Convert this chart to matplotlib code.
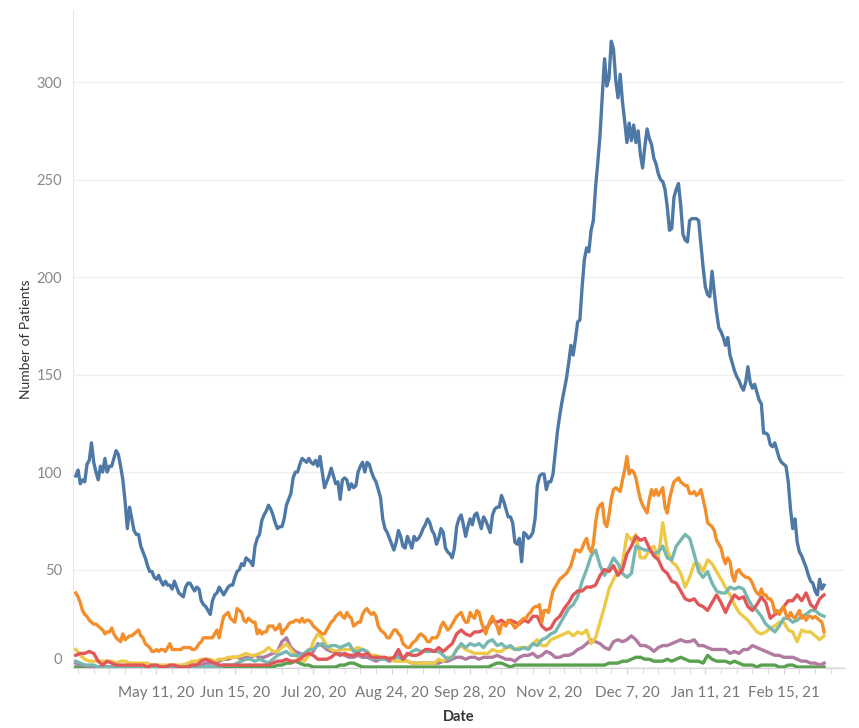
import matplotlib
matplotlib.use("Agg")
import matplotlib.pyplot as plt
import pandas as pd

plt.rcParams['font.family'] = ['Lato', 'DejaVu Sans']

start_date = "2020-04-05"
daily_dates = pd.date_range(start_date, periods=335, freq="D")
two_day_dates = pd.date_range(start_date, periods=168, freq="2D")

blue_values = [
    98, 101, 94, 96, 95, 104, 106, 115, 105, 100,
    96, 103, 100, 107, 100, 103, 103, 107, 111, 109,
    103, 96, 85, 71, 82, 76, 70, 68, 68, 62,
    59, 56, 52, 49, 49, 46, 45, 47, 44, 42,
    44, 42, 42, 40, 44, 41, 38, 37, 36, 41,
    43, 43, 41, 39, 41, 40, 34, 32, 31, 29,
    27, 34, 37, 38, 41, 39, 37, 39, 41, 42,
    42, 46, 49, 50, 53, 52, 56, 55, 54, 52,
    62, 66, 68, 75, 78, 80, 83, 81, 78, 74,
    71, 72, 72, 76, 83, 86, 89, 97, 100, 100,
    104, 107, 106, 105, 107, 105, 104, 106, 103, 108,
    100, 92, 95, 98, 102, 98, 94, 95, 86, 96,
    97, 96, 91, 94, 92, 93, 100, 103, 105, 100,
    105, 104, 100, 97, 95, 91, 87, 76, 71, 69,
    66, 63, 60, 64, 70, 67, 62, 61, 67, 64,
    61, 67, 65, 66, 68, 71, 73, 76, 74, 70,
    68, 63, 66, 71, 69, 61, 59, 58, 56, 61,
    72, 76, 78, 73, 67, 72, 76, 73, 78, 79,
    75, 71, 77, 75, 72, 69, 78, 81, 82, 82,
    88, 85, 81, 77, 77, 74, 64, 63, 66, 54,
    69, 68, 66, 67, 69, 76, 93, 98, 99, 99,
    91, 95, 95, 99, 110, 121, 129, 136, 142, 148,
    156, 165, 160, 168, 177, 178, 195, 209, 215, 213,
    224, 229, 246, 259, 273, 293, 312, 298, 302, 321,
    317, 301, 292, 304, 290, 280, 269, 279, 270, 278,
    269, 275, 263, 256, 267, 276, 271, 268, 261, 258,
    253, 250, 249, 245, 236, 224, 225, 241, 245, 248,
    237, 222, 219, 218, 229, 230, 230, 230, 229, 217,
    205, 195, 191, 190, 203, 192, 182, 174, 172, 169,
    165, 169, 160, 156, 152, 149, 147, 144, 142, 146,
    154, 146, 143, 145, 141, 137, 135, 120, 120, 119,
    114, 113, 115, 111, 107, 105, 104, 103, 95, 81,
    71, 76, 64, 59, 57, 54, 51, 47, 44, 43,
    39, 37, 45, 40, 42,
]

orange_values = [
    38, 36, 33, 29, 27, 26, 24, 23, 22, 22,
    21, 20, 19, 17, 18, 18, 20, 17, 15, 14,
    13, 17, 14, 15, 16, 16, 17, 18, 19, 16,
    15, 12, 11, 10, 8, 8, 9, 8, 9, 9,
    8, 10, 12, 9, 9, 9, 9, 9, 10, 10,
    10, 10, 9, 9, 10, 12, 13, 15, 15, 15,
    15, 15, 17, 19, 15, 21, 26, 27, 28, 25,
    24, 23, 30, 29, 28, 24, 23, 25, 24, 23,
    23, 17, 19, 17, 18, 18, 21, 21, 21, 19,
    20, 22, 17, 19, 20, 22, 23, 23, 24, 24,
    23, 25, 23, 24, 24, 23, 21, 20, 19, 18,
    17, 17, 19, 21, 23, 24, 26, 27, 28, 26,
    25, 28, 26, 25, 21, 22, 23, 23, 27, 29,
    30, 28, 27, 28, 26, 21, 19, 18, 17, 15,
    15, 17, 19, 19, 17, 16, 12, 11, 10, 10,
    12, 13, 14, 16, 17, 16, 15, 13, 13, 15,
    15, 15, 17, 21, 23, 21, 19, 20, 22, 24,
    26, 27, 28, 25, 23, 23, 28, 26, 25, 29,
    28, 23, 20, 17, 21, 24, 26, 23, 21, 17,
    22, 22, 21, 24, 23, 22, 20, 21, 23, 24,
    25, 25, 27, 28, 30, 31, 31, 32, 23, 29,
    29, 28, 34, 39, 41, 43, 45, 46, 47, 48,
    50, 52, 56, 60, 60, 59, 61, 64, 66, 61,
    59, 63, 74, 81, 83, 84, 74, 72, 78, 86,
    91, 92, 91, 90, 96, 101, 108, 99, 101, 100,
    97, 91, 86, 83, 81, 79, 86, 91, 88, 91,
    88, 90, 92, 82, 79, 86, 91, 95, 96, 97,
    95, 94, 93, 93, 89, 89, 90, 88, 89, 91,
    86, 81, 74, 73, 72, 70, 65, 63, 61, 56,
    53, 56, 54, 47, 44, 49, 50, 48, 47, 46,
    46, 45, 43, 40, 38, 37, 40, 37, 37, 35,
    35, 33, 28, 29, 27, 29, 31, 27, 25, 28,
    26, 25, 27, 29, 25, 26, 24, 26, 26, 25,
    26, 25, 24, 23, 18,
]

red_values = [
    6, 7, 7, 8, 7, 3, 1, 3, 2, 1,
    1, 1, 1, 1, 1, 1, 0, 1, 1, 0,
    0, 1, 1, 0, 0, 0, 1, 1, 3, 4,
    3, 2, 1, 1, 1, 1, 1, 1, 1, 1,
    1, 1, 1, 1, 2, 3, 3, 4, 3, 3,
    4, 6, 7, 6, 4, 4, 4, 5, 7, 6,
    7, 6, 6, 7, 6, 7, 5, 5, 5, 5,
    4, 5, 9, 4, 7, 6, 6, 7, 9, 9,
    8, 10, 8, 10, 12, 17, 19, 17, 16, 18,
    18, 19, 21, 24, 23, 24, 22, 24, 23, 22,
    24, 23, 26, 26, 21, 19, 20, 24, 26, 30,
    33, 37, 39, 39, 41, 41, 42, 47, 50, 49,
    52, 47, 50, 58, 62, 67, 65, 66, 61, 57,
    55, 50, 48, 44, 43, 39, 35, 34, 35, 32,
    31, 29, 33, 37, 33, 28, 33, 37, 35, 36,
    31, 29, 32, 36, 33, 25, 27, 28, 31, 34,
    34, 37, 34, 38, 32, 30, 35, 37,
]

teal_values = [
    3, 2, 1, 1, 1, 0, 0, 0, 0, 0,
    0, 0, 0, 0, 0, 0, 0, 0, 0, 0,
    0, 0, 0, 0, 0, 0, 0, 0, 0, 0,
    0, 0, 0, 1, 1, 1, 2, 3, 4, 4,
    3, 4, 3, 2, 4, 6, 7, 8, 6, 6,
    6, 7, 9, 9, 11, 12, 10, 11, 11, 10,
    11, 12, 8, 8, 9, 8, 4, 5, 4, 4,
    4, 5, 5, 4, 6, 8, 9, 8, 8, 8,
    8, 8, 6, 4, 5, 9, 12, 10, 12, 11,
    12, 10, 13, 14, 11, 12, 10, 11, 9, 9,
    10, 9, 12, 11, 14, 15, 17, 18, 22, 26,
    30, 32, 36, 44, 50, 57, 60, 52, 47, 51,
    56, 53, 48, 46, 48, 62, 61, 60, 60, 58,
    59, 62, 56, 55, 62, 65, 68, 66, 58, 49,
    46, 49, 43, 39, 38, 38, 41, 40, 41, 40,
    35, 31, 29, 26, 22, 20, 18, 21, 25, 25,
    23, 24, 26, 27, 29, 29, 27, 26,
]

yellow_values = [
    9, 6, 4, 3, 3, 3, 3, 3, 3, 2,
    3, 3, 2, 2, 2, 2, 2, 1, 1, 1,
    1, 1, 1, 1, 1, 2, 3, 3, 4, 4,
    4, 3, 4, 4, 5, 5, 5, 6, 7, 6,
    6, 7, 8, 10, 8, 8, 10, 12, 9, 6,
    4, 3, 6, 13, 17, 15, 11, 9, 8, 9,
    9, 9, 9, 10, 9, 8, 6, 6, 5, 4,
    5, 3, 3, 3, 3, 2, 2, 2, 2, 2,
    2, 4, 3, 5, 5, 9, 11, 9, 8, 7,
    7, 7, 7, 9, 8, 8, 10, 10, 9, 10,
    10, 10, 12, 14, 11, 11, 14, 15, 16, 17,
    18, 16, 18, 17, 19, 12, 15, 23, 31, 40,
    45, 49, 53, 68, 65, 68, 56, 56, 60, 62,
    56, 74, 60, 54, 52, 48, 41, 46, 53, 53,
    49, 55, 53, 49, 45, 41, 37, 32, 28, 26,
    24, 21, 18, 17, 18, 20, 21, 23, 23, 19,
    18, 13, 19, 18, 18, 16, 14, 16,
]

purple_values = [
    2, 1, 1, 0, 0, 0, 0, 0, 0, 0,
    0, 0, 0, 0, 0, 0, 0, 0, 0, 0,
    0, 0, 0, 0, 1, 1, 1, 1, 1, 2,
    2, 2, 3, 4, 4, 5, 5, 4, 5, 5,
    6, 5, 5, 6, 7, 8, 13, 15, 10, 8,
    7, 6, 6, 8, 12, 11, 9, 8, 8, 7,
    6, 5, 5, 6, 5, 5, 4, 3, 4, 4,
    3, 4, 6, 4, 3, 2, 2, 2, 2, 2,
    2, 2, 3, 3, 4, 5, 5, 4, 5, 5,
    4, 5, 5, 5, 6, 5, 4, 4, 3, 5,
    6, 6, 7, 5, 6, 8, 7, 5, 5, 6,
    6, 7, 9, 10, 12, 14, 13, 12, 10, 9,
    13, 14, 13, 14, 16, 14, 11, 11, 10, 8,
    10, 11, 11, 12, 13, 14, 13, 13, 14, 11,
    11, 10, 9, 9, 9, 9, 7, 8, 7, 9,
    9, 11, 10, 9, 8, 7, 6, 6, 5, 5,
    5, 4, 3, 3, 2, 2, 1, 2,
]

green_values = [
    0, 0, 0, 0, 0, 0, 0, 0, 0, 0,
    0, 0, 0, 0, 0, 0, 0, 0, 0, 0,
    0, 0, 0, 0, 0, 0, 0, 0, 0, 0,
    0, 0, 0, 0, 0, 0, 0, 0, 0, 0,
    0, 0, 0, 0, 0, 1, 1, 2, 2, 3,
    2, 1, 1, 0, 0, 0, 0, 0, 0, 1,
    1, 2, 2, 1, 0, 0, 0, 0, 0, 0,
    0, 0, 0, 0, 0, 0, 0, 0, 0, 0,
    0, 0, 0, 0, 0, 0, 0, 0, 0, 0,
    0, 0, 0, 1, 2, 2, 1, 0, 1, 1,
    1, 1, 1, 1, 1, 1, 1, 1, 1, 1,
    1, 1, 1, 1, 1, 1, 1, 1, 1, 2,
    2, 2, 3, 3, 4, 5, 5, 4, 4, 3,
    3, 3, 4, 3, 4, 5, 4, 3, 3, 3,
    2, 6, 4, 3, 3, 3, 2, 3, 2, 1,
    1, 1, 0, 1, 1, 1, 1, 0, 0, 1,
    1, 0, 0, 0, 0, 0, 0, 0,
]

tick_dates = ["2020-05-11", "2020-06-15", "2020-07-20", "2020-08-24", "2020-09-28",
              "2020-11-02", "2020-12-07", "2021-01-11", "2021-02-15"]
tick_labels = ["May 11, 20", "Jun 15, 20", "Jul 20, 20", "Aug 24, 20", "Sep 28, 20",
               "Nov 2, 20", "Dec 7, 20", "Jan 11, 21", "Feb 15, 21"]
y_ticks = [0, 50, 100, 150, 200, 250, 300]

fig = plt.figure(figsize=(8.59, 7.28), dpi=100)
ax = fig.add_axes([73 / 859, 1 - 668 / 728, (845 - 73) / 859, (668 - 10) / 728])

lw = 2.4
ax.plot(two_day_dates, green_values, color="#59a14f", lw=lw, solid_joinstyle="round", zorder=3)
ax.plot(two_day_dates, purple_values, color="#b07aa1", lw=lw, solid_joinstyle="round", zorder=3)
ax.plot(two_day_dates, yellow_values, color="#edc948", lw=lw, solid_joinstyle="round", zorder=3)
ax.plot(two_day_dates, teal_values, color="#76b7b2", lw=lw, solid_joinstyle="round", zorder=3)
ax.plot(two_day_dates, red_values, color="#e15759", lw=lw, solid_joinstyle="round", zorder=3)
ax.plot(daily_dates, orange_values, color="#f28e2b", lw=lw, solid_joinstyle="round", zorder=3)
ax.plot(daily_dates, blue_values, color="#4e79a7", lw=lw, solid_joinstyle="round", zorder=3)

ax.set_ylim(-0.5, 337)
ax.set_xlim(pd.Timestamp("2020-04-03 18:00"), pd.Timestamp("2021-03-14 08:00"))

ax.set_yticks(y_ticks)
ax.set_yticklabels([str(v) for v in y_ticks])
ax.get_yticklabels()[0].set_verticalalignment("bottom")
ax.set_xticks(pd.to_datetime(tick_dates))
ax.set_xticklabels(tick_labels)
ax.set_xticks(pd.date_range("2020-04-06", "2021-03-14", freq="7D"), minor=True)

ax.grid(axis="y", color="#f0f0f0", lw=1, zorder=0)
ax.set_axisbelow(True)
for s in ["top", "right"]:
    ax.spines[s].set_visible(False)
ax.spines["left"].set_color("#e8e8e8")
ax.spines["bottom"].set_color("#d4d4d4")

ax.tick_params(axis="y", length=0, pad=8, labelsize=10.5, labelcolor="#888888")
ax.tick_params(axis="x", which="major", length=4, color="#d4d4d4", pad=9,
               labelsize=11, labelcolor="#777777")
ax.tick_params(axis="x", which="minor", length=4, color="#d4d4d4")

ax.set_ylabel("Number of Patients", fontsize=10, color="#333333", labelpad=3)
ax.set_xlabel("Date", fontsize=10.5, color="#333333", fontweight="bold", labelpad=7)

fig.savefig("out.png", dpi=100)
